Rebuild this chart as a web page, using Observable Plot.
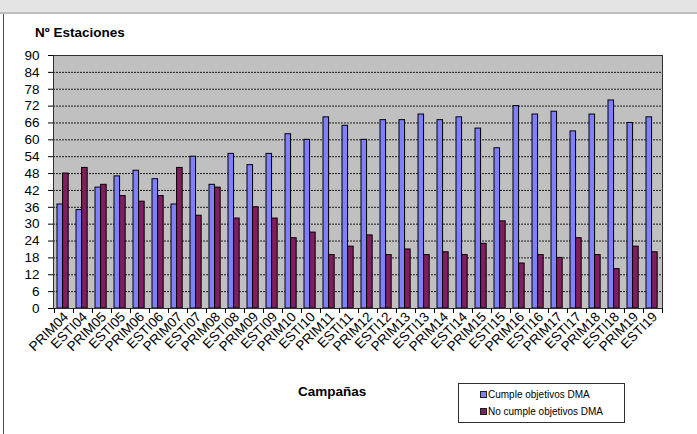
<!DOCTYPE html>
<html>
<head>
<meta charset="utf-8">
<script src="https://cdn.jsdelivr.net/npm/d3@7"></script>
<script src="https://cdn.jsdelivr.net/npm/@observablehq/plot@0.6"></script>
<style>
  html, body { margin: 0; padding: 0; background: #fff; }
  #wrap { position: relative; width: 697px; height: 434px; overflow: hidden; font-family: "Liberation Sans", Arial, sans-serif; color: #000; }
  #wrap svg { position: absolute; left: 0; top: 0; }
  .band { position: absolute; left: 0; top: 0; width: 697px; height: 12px; background: #e4e4e4; }
  .bandline { position: absolute; left: 0; top: 12px; width: 697px; height: 2px; background: #bdbdbd; }
  .leftline { position: absolute; left: 3px; top: 14px; width: 1px; height: 420px; background: #505050; }
  .title { position: absolute; font-weight: bold; font-size: 13.5px; line-height: 1; white-space: nowrap; }
  .legend { position: absolute; left: 458px; top: 383px; width: 165px; height: 38px; border: 1px solid #303030; background: #fff; font-size: 10px; }
  .legend .item { position: absolute; left: 21px; height: 12px; line-height: 12px; white-space: nowrap; }
  .legend .sw { display: inline-block; width: 5px; height: 5px; border: 1px solid #202020; margin-right: 1px; vertical-align: 0px; }
</style>
</head>
<body>
<div id="wrap">
  <div class="band"></div>
  <div class="bandline"></div>
  <div class="leftline"></div>
</div>
<script>
const categories = ["PRIM04","ESTI04","PRIM05","ESTI05","PRIM06","ESTI06","PRIM07","ESTI07",
  "PRIM08","ESTI08","PRIM09","ESTI09","PRIM10","ESTI10","PRIM11","ESTI11",
  "PRIM12","ESTI12","PRIM13","ESTI13","PRIM14","ESTI14","PRIM15","ESTI15",
  "PRIM16","ESTI16","PRIM17","ESTI17","PRIM18","ESTI18","PRIM19","ESTI19"];
const cumple   = [37,35,43,47,49,46,37,54,44,55,51,55,62,60,68,65,60,67,67,69,67,68,64,57,72,69,70,63,69,74,66,68];
const noCumple = [48,50,44,40,38,40,50,33,43,32,36,32,25,27,19,22,26,19,21,19,20,19,23,31,16,19,18,25,19,14,22,20];
const yTicks = [0,6,12,18,24,30,36,42,48,54,60,66,72,78,84,90];
const seriesNames = ["Cumple objetivos DMA", "No cumple objetivos DMA"];
const seriesColors = ["#8080ff", "#7f1f5f"];
const yTitle = "Nº Estaciones";
const xTitle = "Campañas";

const W = 697, H = 434, mL = 53, mR = 35, mT = 55, mB = 126;
const step = (W - mL - mR) / categories.length;
const barW = 5.6, lead = 3;

const data = categories.map((c, i) => ({campaign: c, cumple: cumple[i], noCumple: noCumple[i]}));

const chart = Plot.plot({
  width: W, height: H,
  marginLeft: mL, marginRight: mR, marginTop: mT, marginBottom: mB,
  style: {fontFamily: "'Liberation Sans', Arial, sans-serif", fontSize: "13px", color: "#000", background: "transparent", overflow: "visible"},
  x: {domain: categories, padding: 0, label: null},
  y: {domain: [0, 90], label: null},
  marks: [
    Plot.frame({fill: "#c0c0c0"}),
    Plot.gridY({ticks: yTicks, stroke: "#000", strokeOpacity: 0.85, strokeDasharray: "2,1"}),
    Plot.barY(data, {x: "campaign", y: "cumple", fill: seriesColors[0], stroke: "#000", strokeWidth: 1,
      insetLeft: lead, insetRight: step - lead - barW}),
    Plot.barY(data, {x: "campaign", y: "noCumple", fill: seriesColors[1], stroke: "#000", strokeWidth: 1,
      insetLeft: lead + barW, insetRight: step - lead - 2 * barW}),
    Plot.frame({stroke: "#303030"}),
    Plot.axisY({ticks: yTicks, tickSize: 5, tickPadding: 9, fontSize: 13.5, label: null}),
    Plot.axisX({tickSize: 0, tickRotate: -45, tickPadding: 6, fontSize: 13.5, dx: 2, label: null}),
    Plot.axisX({tickSize: 5, tickFormat: () => "", dx: -step / 2, label: null}),
    Plot.axisX({ticks: [categories[categories.length - 1]], tickSize: 5, tickFormat: () => "", dx: step / 2, label: null})
  ]
});

const wrap = document.getElementById("wrap");
wrap.appendChild(chart);

function addTitle(text, left, top) {
  const d = document.createElement("div");
  d.className = "title";
  d.textContent = text;
  d.style.left = left + "px";
  d.style.top = top + "px";
  wrap.appendChild(d);
}
addTitle(yTitle, 35, 26);
addTitle(xTitle, 298, 385);

const legend = document.createElement("div");
legend.className = "legend";
seriesNames.forEach((name, i) => {
  const it = document.createElement("div");
  it.className = "item";
  it.style.top = (5 + i * 17) + "px";
  const sw = document.createElement("span");
  sw.className = "sw";
  sw.style.background = seriesColors[i];
  it.appendChild(sw);
  it.appendChild(document.createTextNode(name));
  legend.appendChild(it);
});
wrap.appendChild(legend);
</script>
</body>
</html>
